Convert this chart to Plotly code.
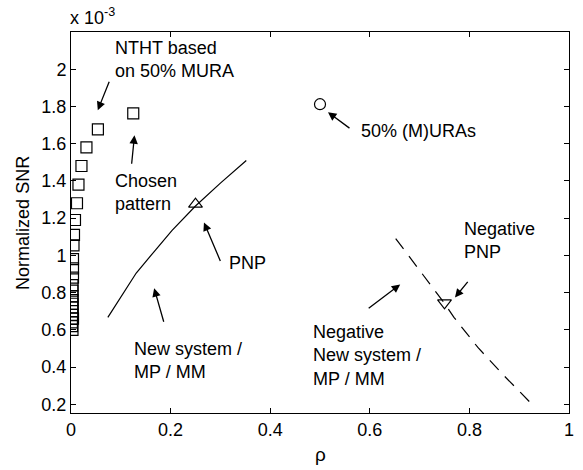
import plotly.graph_objects as go

# Data (Normalized SNR in units of 1e-3)
ntht_x = [0.125, 0.054, 0.031, 0.021, 0.015, 0.012, 0.008, 0.006, 0.005, 0.004, 0.004, 0.004,
          0.003, 0.003, 0.003, 0.003, 0.003, 0.003, 0.003, 0.003, 0.004, 0.002, 0.002, 0.003]
ntht_y = [1.763, 1.677, 1.58, 1.48, 1.38, 1.28, 1.19, 1.11, 1.054, 0.98, 0.93, 0.88,
          0.84, 0.81, 0.78, 0.76, 0.74, 0.72, 0.70, 0.68, 0.66, 0.64, 0.62, 0.60]

new_x = [0.074, 0.10, 0.131, 0.17, 0.203, 0.25, 0.30, 0.352]
new_y = [0.667, 0.778, 0.905, 1.03, 1.134, 1.265, 1.388, 1.51]

neg_x = [0.652, 0.68, 0.72, 0.75, 0.769, 0.817, 0.869, 0.922]
neg_y = [1.09, 0.99, 0.85, 0.742, 0.667, 0.505, 0.355, 0.21]

mura_x = [0.5]
mura_y = [1.812]
pnp_x = [0.25]
pnp_y = [1.275]
npnp_x = [0.75]
npnp_y = [0.745]

yticks = [0.2, 0.4, 0.6, 0.8, 1.0, 1.2, 1.4, 1.6, 1.8, 2.0]
yticktext = ["0.2", "0.4", "0.6", "0.8", "1", "1.2", "1.4", "1.6", "1.8", "2"]
xticks = [0, 0.2, 0.4, 0.6, 0.8, 1.0]
xticktext = ["0", "0.2", "0.4", "0.6", "0.8", "1"]

FONT = "Liberation Sans, Arial, sans-serif"
fig = go.Figure()
fig.add_trace(go.Scatter(x=new_x, y=new_y, mode="lines",
                         line=dict(color="black", width=1.2)))
fig.add_trace(go.Scatter(x=neg_x, y=neg_y, mode="lines",
                         line=dict(color="black", width=1.2, dash="13px,9px")))
fig.add_trace(go.Scatter(x=ntht_x, y=ntht_y, mode="markers",
                         marker=dict(symbol="square-open", size=11, color="black", line=dict(width=1.2))))
fig.add_trace(go.Scatter(x=mura_x, y=mura_y, mode="markers",
                         marker=dict(symbol="circle-open", size=11, color="black", line=dict(width=1.2))))
fig.add_trace(go.Scatter(x=pnp_x, y=pnp_y, mode="markers",
                         marker=dict(symbol="triangle-up-open", size=12, color="black", line=dict(width=1.2))))
fig.add_trace(go.Scatter(x=npnp_x, y=npnp_y, mode="markers",
                         marker=dict(symbol="triangle-down-open", size=12, color="black", line=dict(width=1.2))))

ann = []
# arrows: (head x, head y, ax, ay)
arrows = [(0.0538, 1.780, 12, -30), (0.1275, 1.645, -3, 30), (0.516, 1.769, 23, 17),
          (0.267, 1.177, 17, 40), (0.167, 0.823, 10, 35), (0.661, 0.844, -33, 25),
          (0.771, 0.774, 14, -17)]
for hx, hy, ax, ay in arrows:
    ann.append(dict(x=hx, y=hy, ax=ax, ay=ay, xref="x", yref="y", text="", showarrow=True,
                    arrowhead=2, arrowsize=1.3, arrowwidth=1.3, arrowcolor="black"))
labels = [(0.0837, 2.051, "NTHT based<br>on 50% MURA"), (0.0837, 1.339, "Chosen<br>pattern"),
          (0.578, 1.667, "50% (M)URAs"), (0.313, 0.957, "PNP"),
          (0.1215, 0.433, "New system /<br>MP / MM"),
          (0.482, 0.460, "Negative<br>New system /<br>MP / MM"),
          (0.785, 1.078, "Negative<br>PNP")]
for tx, ty, t in labels:
    ann.append(dict(x=tx, y=ty, xref="x", yref="y", text=t, showarrow=False, xanchor="left",
                    yanchor="middle", align="left", font=dict(size=18, color="black", family=FONT)))
ann.append(dict(x=-0.006, y=1.005, xref="paper", yref="paper", text="x 10<sup>-3</sup>",
                showarrow=False, xanchor="left", yanchor="bottom", font=dict(size=18, color="black", family=FONT)))
ann.append(dict(x=-0.0976, y=0.5, xref="paper", yref="paper", text="Normalized SNR", textangle=-90,
                showarrow=False, xanchor="center", yanchor="middle", font=dict(size=18, color="black", family=FONT)))
ann.append(dict(x=0.5, y=-0.11, xref="paper", yref="paper", text="ρ",
                showarrow=False, xanchor="center", yanchor="middle", font=dict(size=19, color="black", family=FONT)))

axis_common = dict(showline=True, linecolor="black", linewidth=1, mirror="ticks", ticks="inside",
                   ticklen=5, tickcolor="black", showgrid=False, zeroline=False,
                   tickfont=dict(size=18, color="black", family=FONT))
fig.update_layout(
    width=583, height=470, margin=dict(l=71, r=9, t=32, b=57),
    paper_bgcolor="white", plot_bgcolor="white", showlegend=False,
    xaxis=dict(range=[0, 1], tickvals=xticks, ticktext=xticktext, **axis_common),
    yaxis=dict(range=[0.153, 2.2], tickvals=yticks, ticktext=yticktext, **axis_common),
    annotations=ann, font=dict(family=FONT, color="black"),
)
fig.write_html("out.html")
